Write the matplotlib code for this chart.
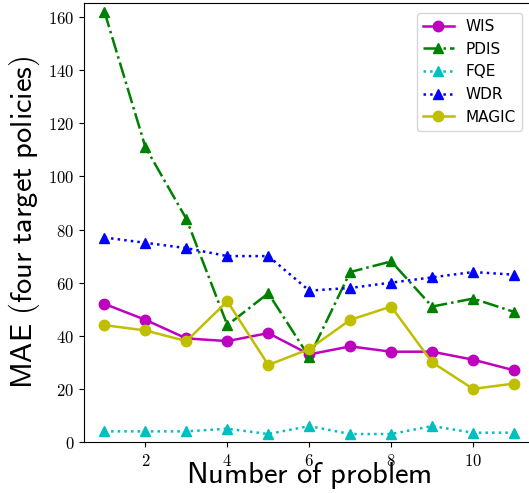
import matplotlib
matplotlib.use('Agg')
import matplotlib.pyplot as plt

problems = [1, 2, 3, 4, 5, 6, 7, 8, 9, 10, 11]
wis = [52, 46, 39, 38, 41, 33, 36, 34, 34, 31, 27]
pdis = [162, 111, 84, 44, 56, 32, 64, 68, 51, 54, 49]
fqe = [4, 4, 4, 5, 3, 6, 3, 3, 6, 3.5, 3.5]
wdr = [77, 75, 73, 70, 70, 57, 58, 60, 62, 64, 63]
magic = [44, 42, 38, 53, 29, 35, 46, 51, 30, 20, 22]

plt.rcParams['mathtext.fontset'] = 'cm'

fig = plt.figure(figsize=(5.29, 4.93), dpi=100)
ax = fig.add_axes([84 / 529, (493 - 442) / 493, (534.5 - 84) / 529, (442 - 3) / 493])

ms = 7.5
lw = 1.8
ax.plot(problems, wis, color='m', linestyle='-', marker='o', ms=ms, lw=lw, label='WIS')
ax.plot(problems, pdis, color='g', linestyle='-.', marker='^', ms=ms, lw=lw, label='PDIS')
ax.plot(problems, fqe, color='c', linestyle=':', marker='^', ms=ms, lw=lw, label='FQE')
ax.plot(problems, wdr, color='b', linestyle=':', marker='^', ms=ms, lw=lw, label='WDR')
ax.plot(problems, magic, color='y', linestyle='-', marker='o', ms=ms, lw=lw, label='MAGIC')

ax.set_xlim(0.5, 11.5)
ax.set_ylim(0, 165.3)
ax.set_xticks([2, 4, 6, 8, 10])
ax.set_xticklabels(['$%d$' % t for t in [2, 4, 6, 8, 10]], fontsize=12)
ax.set_yticks([0, 20, 40, 60, 80, 100, 120, 140, 160])
ax.set_yticklabels(['$%d$' % t for t in [0, 20, 40, 60, 80, 100, 120, 140, 160]], fontsize=12)

ax.set_xlabel(r'$\mathsf{Number\ of\ problem}$', fontsize=22, labelpad=-7)
ax.set_ylabel(r'$\mathsf{MAE\ (four\ target\ policies)}$', fontsize=22, labelpad=4)

leg = ax.legend(loc='upper right', bbox_to_anchor=(0.99, 0.995), fontsize=11)

fig.savefig('out.png', dpi=100)
